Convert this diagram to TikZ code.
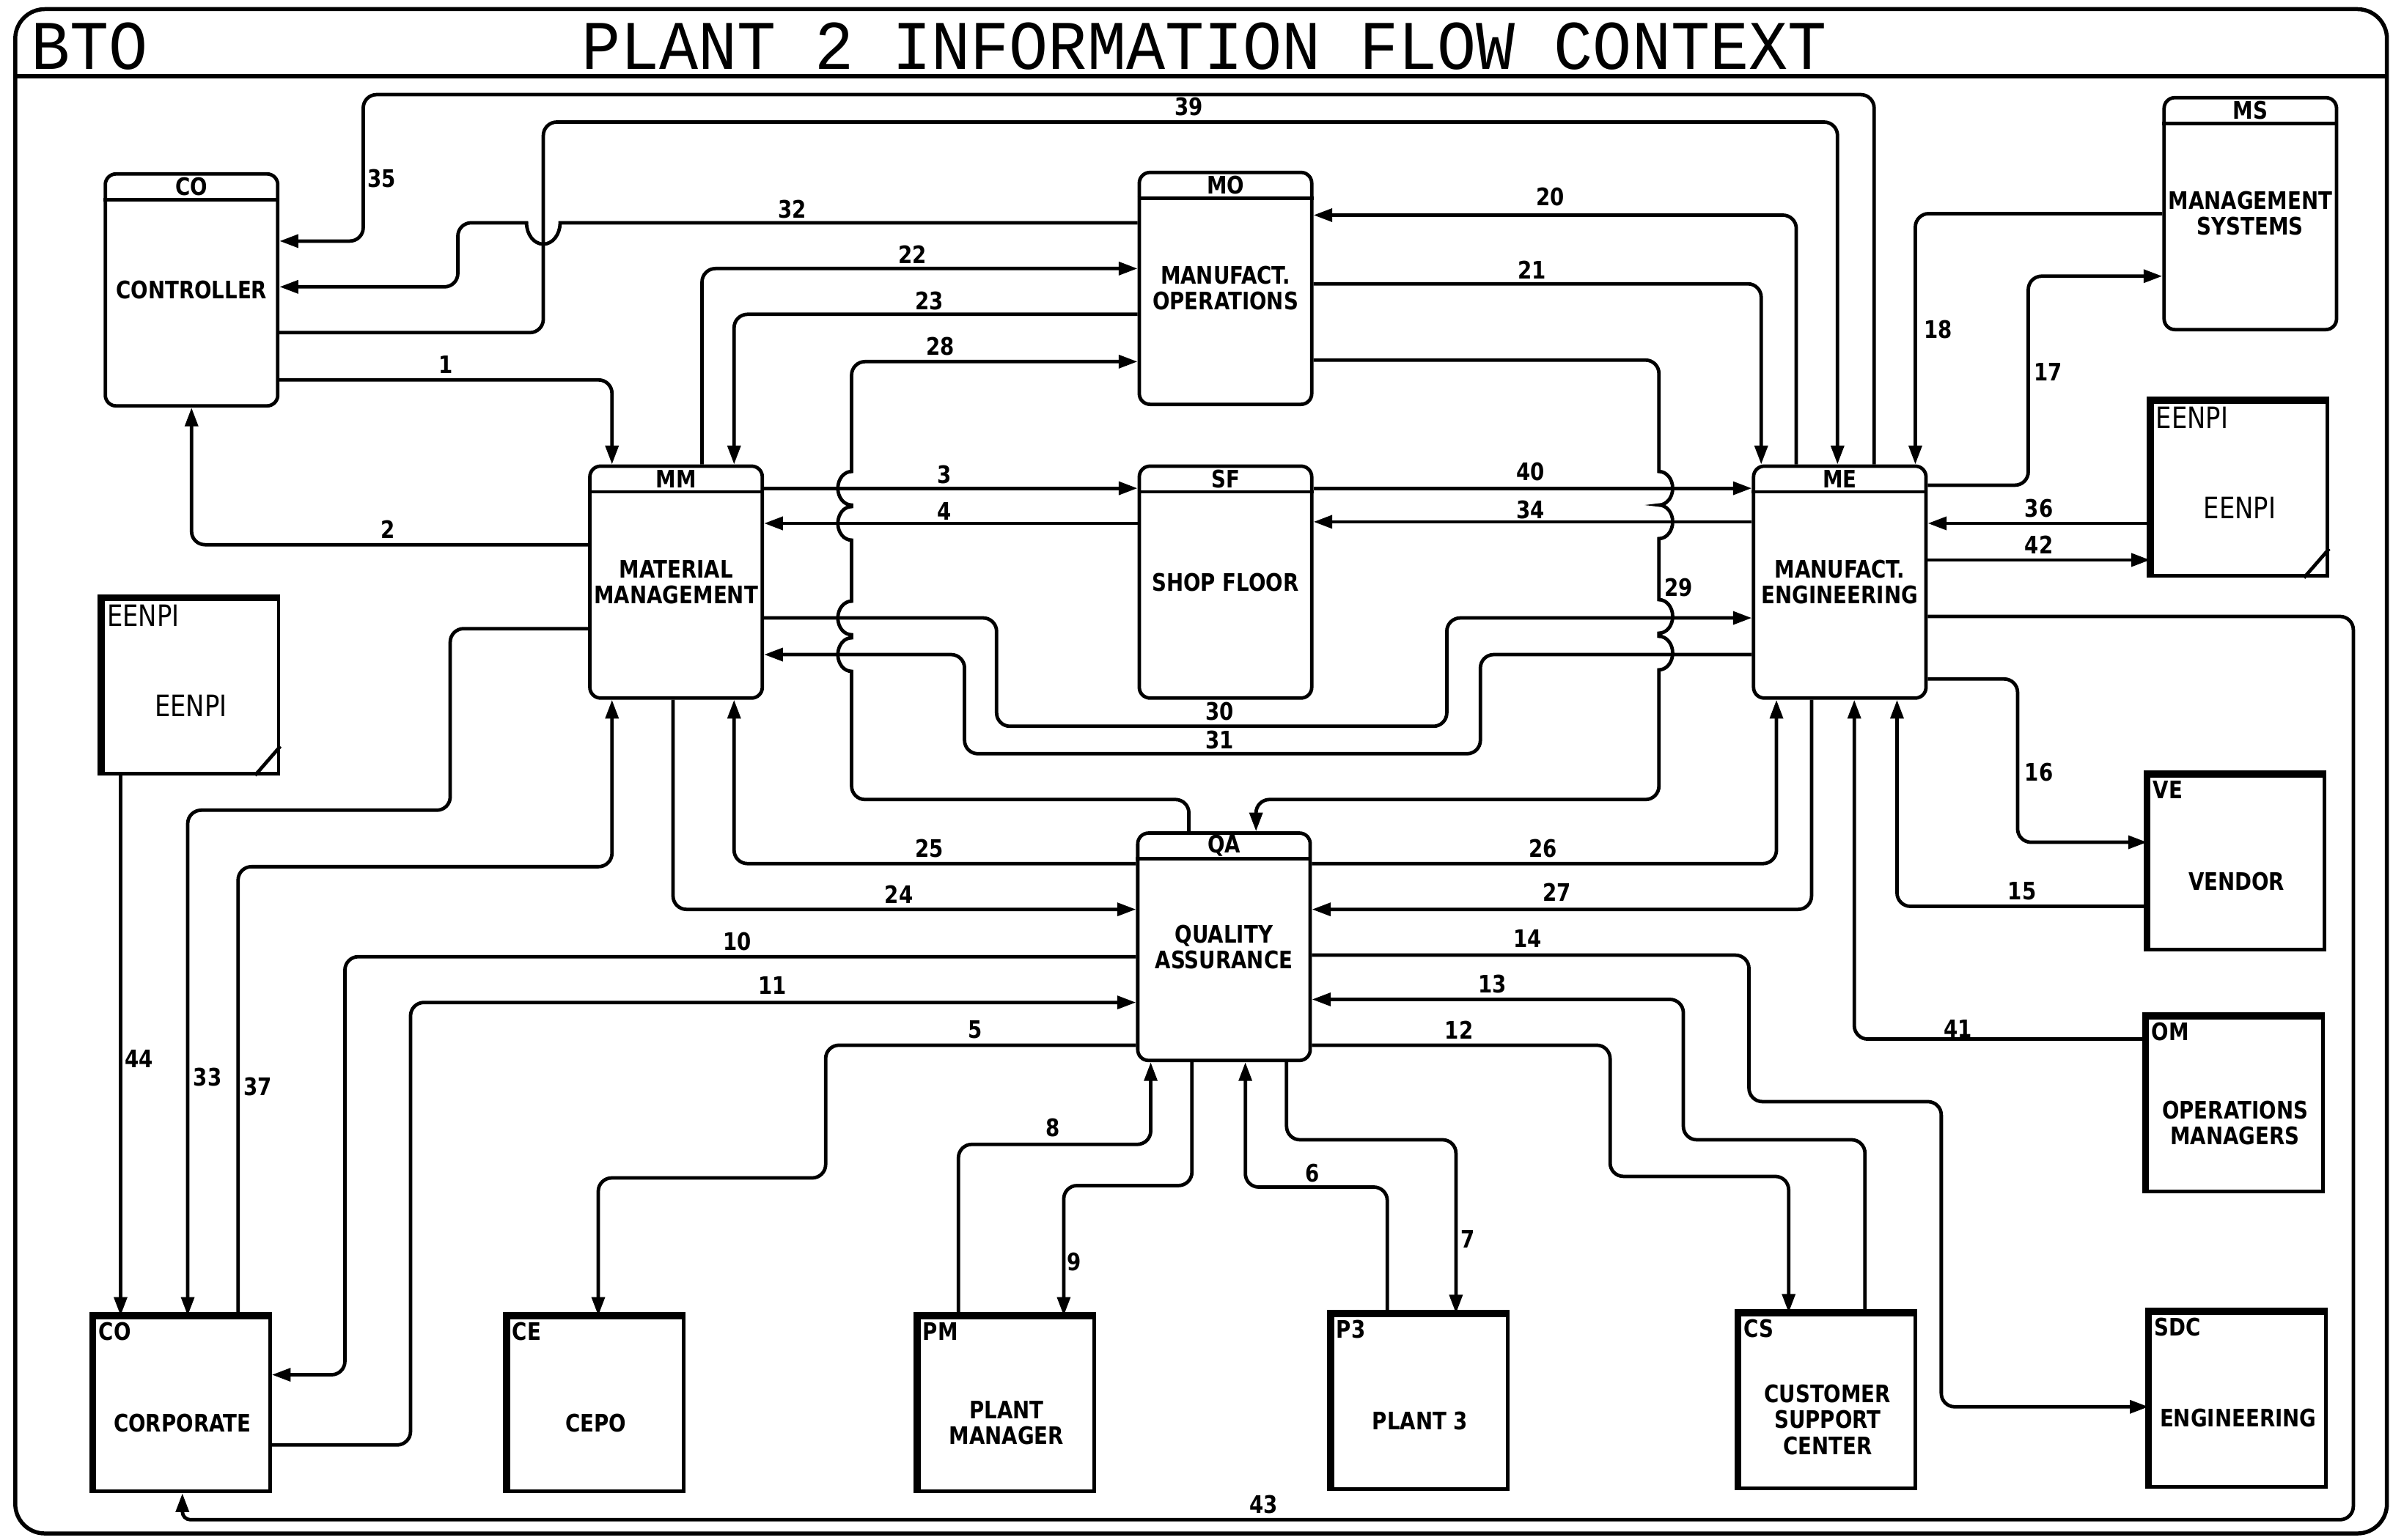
\documentclass[tikz,border=0pt]{standalone}
\usepackage{fontspec}
\newfontfamily\plotfont{DejaVu Sans}[FakeStretch=0.84]
\newfontfamily\titlefont{Liberation Mono}[FakeStretch=0.93]
\usetikzlibrary{arrows.meta,calc}

\tikzset{
  flow/.style={line width=1.3pt, rounded corners=5pt},
  proc/.style={draw, line width=1.3pt, rounded corners=4pt, minimum width=2.26cm,
    minimum height=3.04cm, inner sep=0pt, align=center,
    font=\plotfont\bfseries\fontsize{9}{9.6}\selectfont},
  ext/.style={draw, line width=1.3pt, minimum width=2.3cm, minimum height=2.28cm, inner sep=0pt},
  lbl/.style={inner sep=0pt, align=center, font=\plotfont\bfseries\fontsize{9}{9.6}\selectfont},
  code/.style={inner sep=0pt, font=\plotfont\bfseries\fontsize{9}{9}\selectfont},
  plainlbl/.style={inner sep=0pt, font=\plotfont\fontsize{11}{11}\selectfont},
  num/.style={inner sep=0pt, font=\plotfont\bfseries\fontsize{9}{9}\selectfont},
  titletext/.style={inner sep=0pt, font=\titlefont\fontsize{26}{26}\selectfont},
  hop/.style={x radius=1.8mm, y radius=2.2mm}
}

\begin{document}
\begin{tikzpicture}[x=0.2mm, y=-0.2mm, >={Triangle[length=7pt,width=4.8pt]}]
  \useasboundingbox (0,0) rectangle (1568,1009);
  % frame and title
  \draw[line width=1.5pt, rounded corners=11pt] (10,6) rectangle (1564,1005);
  \draw[line width=1.5pt] (10,50) -- (1564,50);
  \node[titletext, anchor=west] (bto) at (20,30.5) {BTO};
  \node[titletext] (title) at (789,30.5) {PLANT 2 INFORMATION FLOW CONTEXT};

  % processes
  \node[proc] (CTRL) at (125.5,190) {CONTROLLER};
  \node[proc] (MO) at (803,189) {MANUFACT.\\OPERATIONS};
  \node[proc] (MM) at (443,381.5) {MATERIAL\\MANAGEMENT};
  \node[proc] (SF) at (803,381.5) {SHOP FLOOR};
  \node[proc] (ME) at (1205.5,381.5) {MANUFACT.\\ENGINEERING};
  \node[proc, minimum height=2.98cm] (QA) at (802,620.5) {QUALITY\\ASSURANCE};
  \node[proc] (MS) at (1474.5,140) {MANAGEMENT\\SYSTEMS};
  \foreach \n/\c in {CTRL/CO, MO/MO, MM/MM, SF/SF, ME/ME, QA/QA, MS/MS} {
    \draw[line width=1.3pt] ([yshift=-3.6mm]\n.north west) -- ([yshift=-3.6mm]\n.north east);
    \node[code] (\n-code) at ([yshift=-1.9mm]\n.north) {\c};
  }

  % external entities
  \node[ext] (EENPIa) at (125,450) {};
  \node[ext] (EENPIb) at (1467.5,320.5) {};
  \node[ext] (VE) at (1465.5,565.5) {};
  \node[ext] (OM) at (1464.5,724) {};
  \node[ext] (SDC) at (1466.5,917.5) {};
  \node[ext] (CORP) at (119.5,920.5) {};
  \node[ext] (CE) at (390.5,920.5) {};
  \node[ext] (PM) at (659.5,920.5) {};
  \node[ext] (P3) at (930.5,919) {};
  \node[ext] (CS) at (1197.5,918.5) {};
  \foreach \n in {EENPIa,EENPIb,VE,OM,SDC,CORP,CE,PM,P3,CS}
    \draw[line width=2.6pt] (\n.south west) -- (\n.north west) -- (\n.north east);
  \foreach \n in {EENPIa,EENPIb} {
    \draw[line width=1.3pt] ([yshift=3.8mm]\n.south east) -- ([xshift=-3.3mm]\n.south east);
    \node[plainlbl, anchor=north west] (\n-code) at ([xshift=0.7mm,yshift=-0.8mm]\n.north west) {EENPI};
    \node[plainlbl] (\n-txt) at ([yshift=-2.5mm]\n.center) {EENPI};
  }
  \foreach \n/\c in {VE/VE, OM/OM, SDC/SDC, CORP/CO, CE/CE, PM/PM, P3/P3, CS/CS}
    \node[code, anchor=north west] (\n-code) at ([xshift=0.7mm,yshift=-0.8mm]\n.north west) {\c};
  \foreach \n/\t in {VE/VENDOR, OM/{OPERATIONS\\MANAGERS}, SDC/ENGINEERING, CORP/CORPORATE,
      CE/CEPO, PM/{PLANT\\MANAGER}, P3/PLANT 3, CS/{CUSTOMER\\SUPPORT\\CENTER}}
    \node[lbl] (\n-txt) at ([yshift=-2.4mm]\n.center) {\t};

  % flows around the controller
  \draw[flow,->] (CTRL.east |- 0,249) -- (401,249) -- (MM.north -| 401,0);
  \draw[flow,->] (MM.west |- 0,357) -- (CTRL.south |- 0,357) -- (CTRL.south);
  \draw[flow,->] (ME.north -| 1228,0) -- (1228,62) -- (238,62) -- (238,158) -- (CTRL.east |- 0,158);
  \draw[flow,->] (CTRL.east |- 0,218) -- (356,218) -- (356,80) -- (1204,80) -- (ME.north -| 1204,0);
  \draw[flow,->] (MO.west |- 0,146) -- (390,146) [sharp corners] -- (367,146)
    arc[start angle=0, end angle=-180, x radius=2.2mm, y radius=2.8mm]
    -- (330,146) [rounded corners=5pt] -- (300,146) -- (300,188) -- (CTRL.east |- 0,188);

  % flows around manufacturing operations
  \draw[flow,->] (MM.north -| 460,0) -- (460,176) -- (MO.west |- 0,176);
  \draw[flow,->] (MO.west |- 0,206) -- (481,206) -- (MM.north -| 481,0);
  \draw[flow,->] (ME.north -| 1177,0) -- (1177,141) -- (MO.east |- 0,141);
  \draw[flow,->] (MO.east |- 0,186) -- (1154,186) -- (ME.north -| 1154,0);
  \draw[flow,->] (QA.north -| 779,0) -- (779,524) -- (558,524) -- (558,470) [sharp corners] -- (558,440)
    arc[hop, start angle=270, end angle=90] -- (558,416)
    arc[hop, start angle=270, end angle=90] -- (558,354)
    arc[hop, start angle=270, end angle=90] -- (558,331)
    arc[hop, start angle=270, end angle=90] -- (558,280) [rounded corners=5pt] -- (558,237) -- (MO.west |- 0,237);
  \draw[flow,->] (MO.east |- 0,236) -- (1087,236) -- (1087,280) [sharp corners] -- (1087,309)
    arc[hop, start angle=90, end angle=-90]
    arc[hop, start angle=90, end angle=-90] -- (1087,393)
    arc[hop, start angle=90, end angle=-90] -- (1087,417)
    arc[hop, start angle=90, end angle=-90] -- (1087,470) [rounded corners=5pt] -- (1087,524) -- (823,524) -- (QA.north -| 823,0);

  % flows through the shop floor
  \draw[flow,->] (MM.east |- 0,320) -- (SF.west |- 0,320);
  \draw[flow,->] (SF.west |- 0,343) -- (MM.east |- 0,343);
  \draw[flow,->] (SF.east |- 0,320) -- (ME.west |- 0,320);
  \draw[flow,->] (ME.west |- 0,342) -- (SF.east |- 0,342);
  \draw[flow,->] (MM.east |- 0,405) -- (653,405) -- (653,476) -- (948,476) -- (948,405) -- (ME.west |- 0,405);
  \draw[flow,->] (ME.west |- 0,429) -- (970,429) -- (970,494) -- (632,494) -- (632,429) -- (MM.east |- 0,429);

  % flows of manufacturing engineering
  \draw[flow,->] (MS.west |- 0,140) -- (1255,140) -- (ME.north -| 1255,0);
  \draw[flow,->] (ME.east |- 0,318) -- (1329,318) -- (1329,181) -- (MS.west |- 0,181);
  \draw[flow,->] (EENPIb.west |- 0,343) -- (ME.east |- 0,343);
  \draw[flow,->] (ME.east |- 0,367) -- (EENPIb.west |- 0,367);
  \draw[flow,->] (ME.east |- 0,404) -- (1542,404) -- (1542,996) [rounded corners=3pt] -- (CORP.south |- 0,996) [sharp corners] -- (CORP.south);
  \draw[flow,->] (ME.east |- 0,445) -- (1322,445) -- (1322,552) -- (VE.west |- 0,552);
  \draw[flow,->] (VE.west |- 0,594) -- (1243,594) -- (ME.south -| 1243,0);
  \draw[flow,->] (OM.west |- 0,681) -- (1215,681) -- (ME.south -| 1215,0);

  % flows of quality assurance
  \draw[flow,->] (QA.west |- 0,566) -- (481,566) -- (MM.south -| 481,0);
  \draw[flow,->] (MM.south -| 441,0) -- (441,596) -- (QA.west |- 0,596);
  \draw[flow,->] (QA.east |- 0,566) -- (1164,566) -- (ME.south -| 1164,0);
  \draw[flow,->] (ME.south -| 1187,0) -- (1187,596) -- (QA.east |- 0,596);
  \draw[flow,->] (QA.east |- 0,626) -- (1146,626) -- (1146,722) -- (1272,722) -- (1272,922) -- (SDC.west |- 0,922);
  \draw[flow,->] (CS.north -| 1222,0) -- (1222,747) -- (1103,747) -- (1103,655) -- (QA.east |- 0,655);
  \draw[flow,->] (QA.east |- 0,685) -- (1055,685) -- (1055,771) -- (1172,771) -- (CS.north -| 1172,0);
  \draw[flow,->] (QA.west |- 0,627) -- (226,627) -- (226,901) -- (CORP.east |- 0,901);
  \draw[flow,->] (CORP.east |- 0,947) -- (269,947) -- (269,657) -- (QA.west |- 0,657);
  \draw[flow,->] (QA.west |- 0,685) -- (541,685) -- (541,772) -- (392,772) -- (CE.north -| 392,0);
  \draw[flow,->] (PM.north -| 628,0) -- (628,750) -- (754,750) -- (QA.south -| 754,0);
  \draw[flow,->] (QA.south -| 781,0) -- (781,777) -- (697,777) -- (PM.north -| 697,0);
  \draw[flow,->] (P3.north -| 909,0) -- (909,778) -- (816,778) -- (QA.south -| 816,0);
  \draw[flow,->] (QA.south -| 843,0) -- (843,747) -- (954,747) -- (P3.north -| 954,0);

  % flows to corporate
  \draw[flow,->] (EENPIa.south -| 79,0) -- (CORP.north -| 79,0);
  \draw[flow,->] (MM.west |- 0,412) -- (295,412) -- (295,531) -- (123,531) -- (CORP.north -| 123,0);
  \draw[flow,->] (CORP.north -| 156,0) -- (156,568) -- (401,568) -- (MM.south -| 401,0);

  % flow numbers
  \foreach \t/\x/\y in {1/292/239, 2/254/347, 3/619/311, 4/619/335, 5/639/675, 6/860/769,
      7/962/812, 8/690/739, 9/704/827, 10/483/617, 11/506/646, 12/956/675, 13/978/645,
      14/1001/615, 15/1325/584, 16/1336/506, 17/1342/244, 18/1270/216, 20/1016/129,
      21/1004/177, 22/598/167, 23/609/197, 24/589/586, 25/609/556, 26/1011/556,
      27/1020/585, 28/616/227, 29/1100/385, 30/799/466, 31/799/485, 32/519/137,
      33/136/706, 34/1003/334, 35/250/117, 36/1336/333, 37/169/712, 39/779/70,
      40/1003/309, 41/1283/674, 42/1336/357, 43/828/986, 44/91/694}
    \node[num] (n\t) at (\x,\y) {\t};
\end{tikzpicture}
\end{document}
